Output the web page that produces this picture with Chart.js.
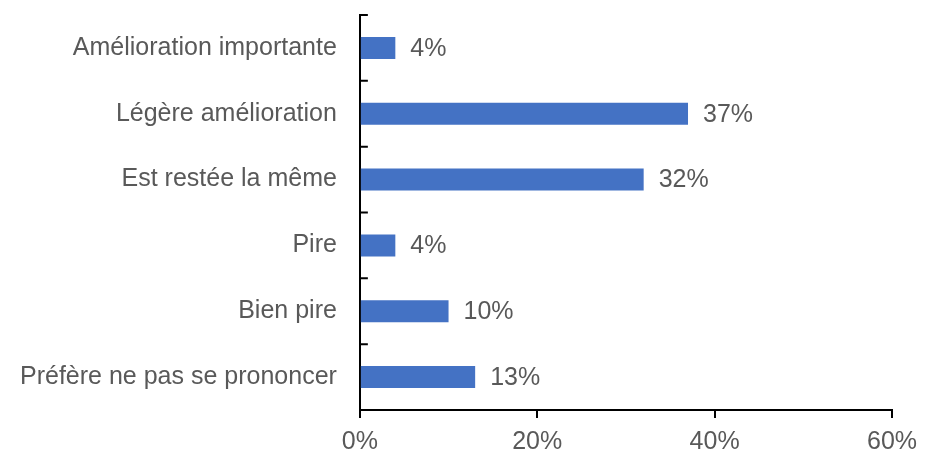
<!DOCTYPE html>
<html>
<head>
<meta charset="utf-8">
<script src="https://cdn.jsdelivr.net/npm/chart.js@4/dist/chart.umd.min.js"></script>
<style>
  html, body { margin: 0; padding: 0; background: #fff; }
  #wrap { width: 942px; height: 468px; }
</style>
</head>
<body>
<div id="wrap"><canvas id="chart"></canvas></div>
<script>
// ── Data ─────────────────────────────────────────────────────
const categories = [
  'Amélioration importante',
  'Légère amélioration',
  'Est restée la même',
  'Pire',
  'Bien pire',
  'Préfère ne pas se prononcer'
];
const values = [4, 37, 32, 4, 10, 13];
const xTicks = [0, 20, 40, 60];

const BAR_COLOR  = '#4472C4';
const TEXT_COLOR = '#595959';
const FONT = 'Liberation Sans, Arial, sans-serif';
const FONT_SIZE = 25;

// value labels to the right of each bar
const valueLabels = {
  id: 'valueLabels',
  afterDatasetsDraw(chart) {
    const { ctx } = chart;
    const meta = chart.getDatasetMeta(0);
    ctx.save();
    ctx.font = `${FONT_SIZE}px ${FONT}`;
    ctx.fillStyle = TEXT_COLOR;
    ctx.textAlign = 'left';
    ctx.textBaseline = 'middle';
    meta.data.forEach((bar, i) => {
      ctx.fillText(values[i] + '%', bar.x + 15, bar.y + 1);
    });
    ctx.restore();
  }
};

// short inward tick marks on the category axis (between categories)
const innerTicks = {
  id: 'innerTicks',
  afterDraw(chart) {
    const { ctx } = chart;
    const y = chart.scales.y;
    const left = chart.chartArea.left;
    ctx.save();
    ctx.strokeStyle = '#000';
    ctx.lineWidth = 2;
    ctx.beginPath();
    for (let i = 0; i <= categories.length; i++) {
      const pos = y.getPixelForValue(i - 0.5);
      ctx.moveTo(left, pos);
      ctx.lineTo(left + 8, pos);
    }
    ctx.stroke();
    ctx.restore();
  }
};

new Chart(document.getElementById('chart'), {
  type: 'bar',
  data: {
    labels: categories,
    datasets: [{
      data: values,
      backgroundColor: BAR_COLOR,
      borderWidth: 0,
      categoryPercentage: 1,
      barPercentage: 0.335
    }]
  },
  options: {
    indexAxis: 'y',
    responsive: true,
    maintainAspectRatio: false,
    animation: false,
    layout: { padding: { top: 14, right: 50, bottom: 2, left: 20 } },
    plugins: {
      legend: { display: false },
      tooltip: { enabled: false }
    },
    scales: {
      x: {
        min: 0,
        max: 60,
        afterBuildTicks: s => { s.ticks = xTicks.map(v => ({ value: v })); },
        border: { display: true, color: '#000', width: 2 },
        grid: {
          drawOnChartArea: false,
          drawTicks: true,
          tickLength: 8,
          color: '#000',
          lineWidth: 2
        },
        ticks: {
          callback: v => v + '%',
          color: TEXT_COLOR,
          font: { family: FONT, size: FONT_SIZE },
          padding: 9,
          maxRotation: 0
        }
      },
      y: {
        border: { display: true, color: '#000', width: 2 },
        grid: { display: false, drawTicks: true, tickLength: 23 },
        ticks: {
          color: TEXT_COLOR,
          font: { family: FONT, size: FONT_SIZE },
          padding: 0
        }
      }
    }
  },
  plugins: [valueLabels, innerTicks]
});
</script>
</body>
</html>
